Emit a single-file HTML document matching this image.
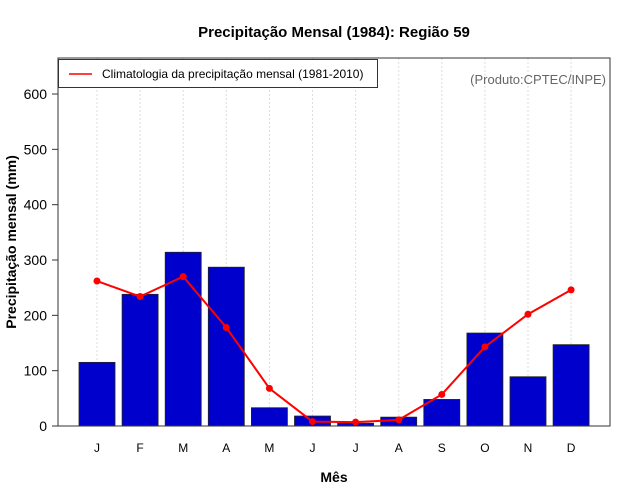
<!DOCTYPE html>
<html><head><meta charset="utf-8"><style>body{margin:0;background:#fff}svg{display:block;font-family:"Liberation Sans",sans-serif}</style></head>
<body>
<svg id="c" width="640" height="500">
<text x="334" y="37" text-anchor="middle" font-size="15" font-weight="bold">Precipitação Mensal (1984): Região 59</text>
<text x="334" y="482" text-anchor="middle" font-size="14" font-weight="bold">Mês</text>
<text transform="translate(16,242) rotate(-90)" text-anchor="middle" font-size="14" font-weight="bold">Precipitação mensal (mm)</text>
<g id="grid"></g><g id="bars"></g><g id="line"></g><g id="axes"></g>
<rect x="58" y="58" width="552" height="368" fill="none" stroke="#333"/>
<g>
<rect x="58.5" y="59.5" width="319" height="28" fill="#fff" stroke="#333"/>
<line x1="69" y1="74" x2="92" y2="74" stroke="red" stroke-width="1.5"/>
<text x="102" y="78" font-size="12">Climatologia da precipitação mensal (1981-2010)</text>
</g>
<text x="606" y="84" text-anchor="end" font-size="13" fill="#666">(Produto:CPTEC/INPE)</text>
</svg>
<script>
const months=["J","F","M","A","M","J","J","A","S","O","N","D"];
const precip=[115,238,314,287,33,18,5,16,48,168,89,147];
const clim=[262,234,270,178,68,8,7,11,57,143,202,246];
const yTicks=[0,100,200,300,400,500,600];
const NS="http://www.w3.org/2000/svg";
const xS=i=>97+i*43.1;
const yS=v=>426-v*0.5533;
function mk(p,t,a){const e=document.createElementNS(NS,t);for(const k in a)e.setAttribute(k,a[k]);document.getElementById(p).appendChild(e);return e;}
months.forEach((m,i)=>{
 const g=mk("grid","line",{x1:xS(i),x2:xS(i),y1:58,y2:426,stroke:"#ddd","stroke-dasharray":"2,2"});
 
 
 const b=mk("bars","rect",{x:xS(i)-18,y:yS(precip[i]),width:36,height:426-yS(precip[i]),fill:"#0000cd",stroke:"#222","stroke-width":0.8});
 
 
 const t=mk("axes","text",{x:xS(i),y:452,"text-anchor":"middle","font-size":12});
 t.textContent=m;
 
 
});
const pl=mk("line","polyline",{points:clim.map((v,i)=>xS(i)+","+yS(v)).join(" "),fill:"none",stroke:"red","stroke-width":2});


clim.forEach((v,i)=>{
 const c=mk("line","circle",{cx:xS(i),cy:yS(v),r:3.5,fill:"red"});
 
 
});
yTicks.forEach(v=>{
 const l=mk("axes","line",{x1:52,x2:58,y1:yS(v),y2:yS(v),stroke:"#333"});
 
 
 const t=mk("axes","text",{x:47,y:yS(v)+5,"text-anchor":"end","font-size":14});
 t.textContent=v;
 
 
});
</script>
</body></html>
